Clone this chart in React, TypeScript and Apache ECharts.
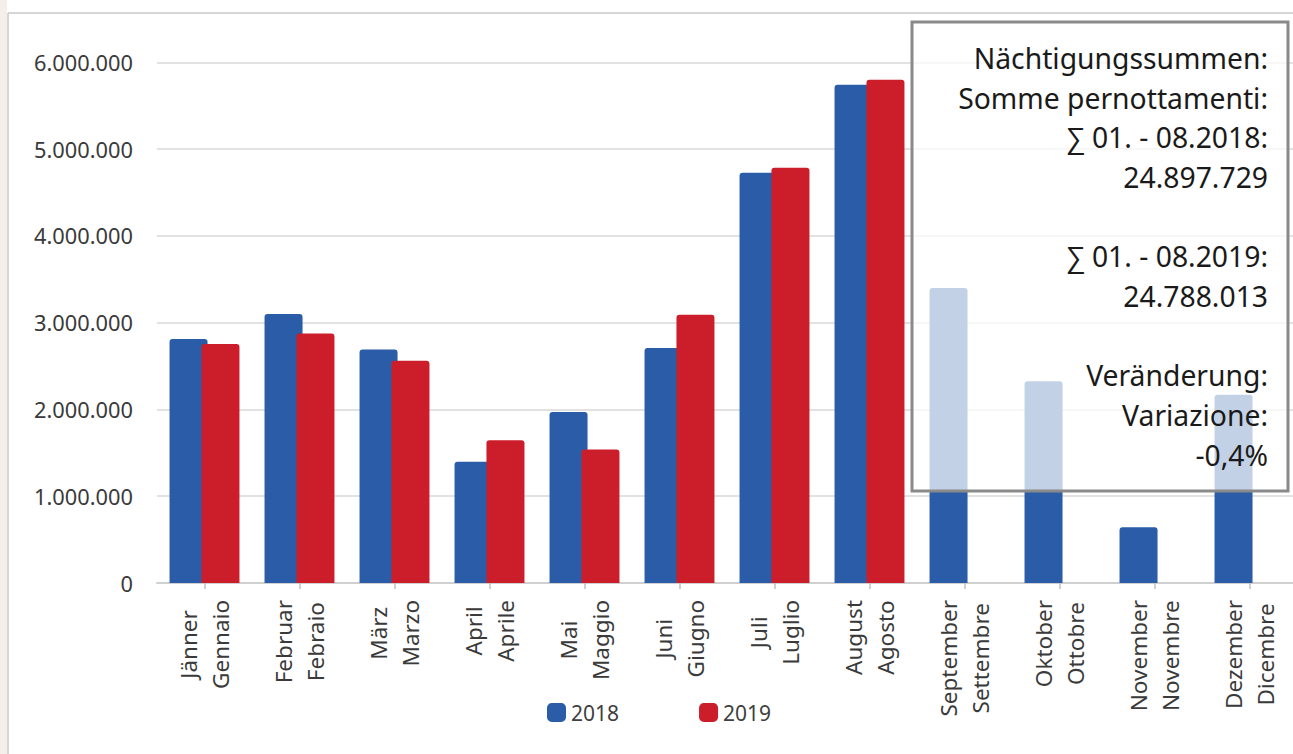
import React, { useEffect, useRef } from "react";
import * as echarts from "echarts";

const monthsDe = ["Jänner", "Februar", "März", "April", "Mai", "Juni", "Juli", "August", "September", "Oktober", "November", "Dezember"];
const monthsIt = ["Gennaio", "Febraio", "Marzo", "Aprile", "Maggio", "Giugno", "Luglio", "Agosto", "Settembre", "Ottobre", "Novembre", "Dicembre"];
const values2018 = [2811000, 3100000, 2690000, 1396000, 1971000, 2708000, 4727000, 5740000, 3400000, 2325000, 641000, 2170000];
const values2019 = [2753000, 2876000, 2560000, 1646000, 1539000, 3092000, 4785000, 5800000, null, null, null, null];
const seriesNames = ["2018", "2019"];
const boxLines = [
  "Nächtigungssummen:",
  "Somme pernottamenti:",
  "∑ 01. - 08.2018:",
  "24.897.729",
  "",
  "∑ 01. - 08.2019:",
  "24.788.013",
  "",
  "Veränderung:",
  "Variazione:",
  "-0,4%",
];

const FONT = '"Noto Sans", "Open Sans", sans-serif';
const BLUE = "#2a5ca8";
const RED = "#cc1e2a";

function fmt(v: number): string {
  return String(Math.round(v)).replace(/\B(?=(\d{3})+(?!\d))/g, ".");
}

export default function App() {
  const ref = useRef<HTMLDivElement>(null);
  useEffect(() => {
    if (!ref.current) return;
    const chart = echarts.init(ref.current, undefined, { renderer: "svg" });
    const option: any = {
      animation: false,
      backgroundColor: "#ffffff",
      textStyle: { fontFamily: FONT },
      grid: { left: 157, right: 0, top: 62.3, bottom: 171 },
      legend: {
        data: seriesNames,
        left: 542,
        top: 697,
        itemWidth: 19,
        itemHeight: 19,
        itemGap: 80,
        icon: "roundRect",
        textStyle: { fontSize: 21, color: "#404040", fontFamily: FONT },
      },
      xAxis: {
        type: "category",
        data: monthsDe,
        axisLine: { lineStyle: { color: "#d0d0d0", width: 2 } },
        axisTick: { show: true, alignWithLabel: true, length: 6, lineStyle: { color: "#c0c0c0", width: 1.5 } },
        axisLabel: {
          interval: 0,
          rotate: 90,
          margin: 17,
          formatter: (_v: string, i: number) => `{c|${monthsDe[i]}}\n{c|${monthsIt[i]}}`,
          rich: {
            c: { align: "center", fontSize: 22.5, lineHeight: 31.5, color: "#3a3a3a", fontFamily: FONT },
          },
        },
      },
      yAxis: {
        type: "value",
        min: 0,
        max: 6000000,
        interval: 1000000,
        axisLine: { show: false },
        axisTick: { show: false },
        axisLabel: {
          margin: 24,
          fontSize: 21.8,
          color: "#3a3a3a",
          fontFamily: FONT,
          formatter: (v: number) => fmt(v),
        },
        splitLine: { lineStyle: { color: "#d9d9d9", width: 1.5 } },
      },
      series: [
        {
          name: seriesNames[0],
          type: "bar",
          data: values2018,
          barWidth: 38,
          barGap: "-16%",
          itemStyle: { color: BLUE, borderRadius: [3, 3, 0, 0] },
        },
        {
          name: seriesNames[1],
          type: "bar",
          data: values2019,
          barWidth: 38,
          itemStyle: { color: RED, borderRadius: [3, 3, 0, 0] },
        },
      ],
      graphic: [
        { type: "rect", z: 100, shape: { x: 0, y: 0, width: 7, height: 754 }, style: { fill: "#f5efe9" } },
        { type: "line", z: 100, shape: { x1: 8, y1: 13, x2: 1297, y2: 13 }, style: { stroke: "#c8c8c8", lineWidth: 1.5 } },
        { type: "line", z: 100, shape: { x1: 8, y1: 13, x2: 8, y2: 754 }, style: { stroke: "#c8c8c8", lineWidth: 1.5 } },
        {
          type: "rect",
          z: 100,
          shape: { x: 912, y: 22, width: 376, height: 469 },
          style: { fill: "rgba(255,255,255,0.72)", stroke: "#8a8a8a", lineWidth: 3 },
        },
        {
          type: "text",
          z: 101,
          x: 1268,
          y: 38,
          style: {
            text: boxLines.join("\n"),
            align: "right",
            verticalAlign: "top",
            lineHeight: 39.7,
            fontSize: 28.3,
            fontFamily: FONT,
            fill: "#1a1a1a",
          },
        },
      ],
    };
    chart.setOption(option);
    return () => chart.dispose();
  }, []);
  return (
    <div
      ref={ref}
      style={{ position: "fixed", left: 0, top: 0, width: 1297, height: 754 }}
    />
  );
}
